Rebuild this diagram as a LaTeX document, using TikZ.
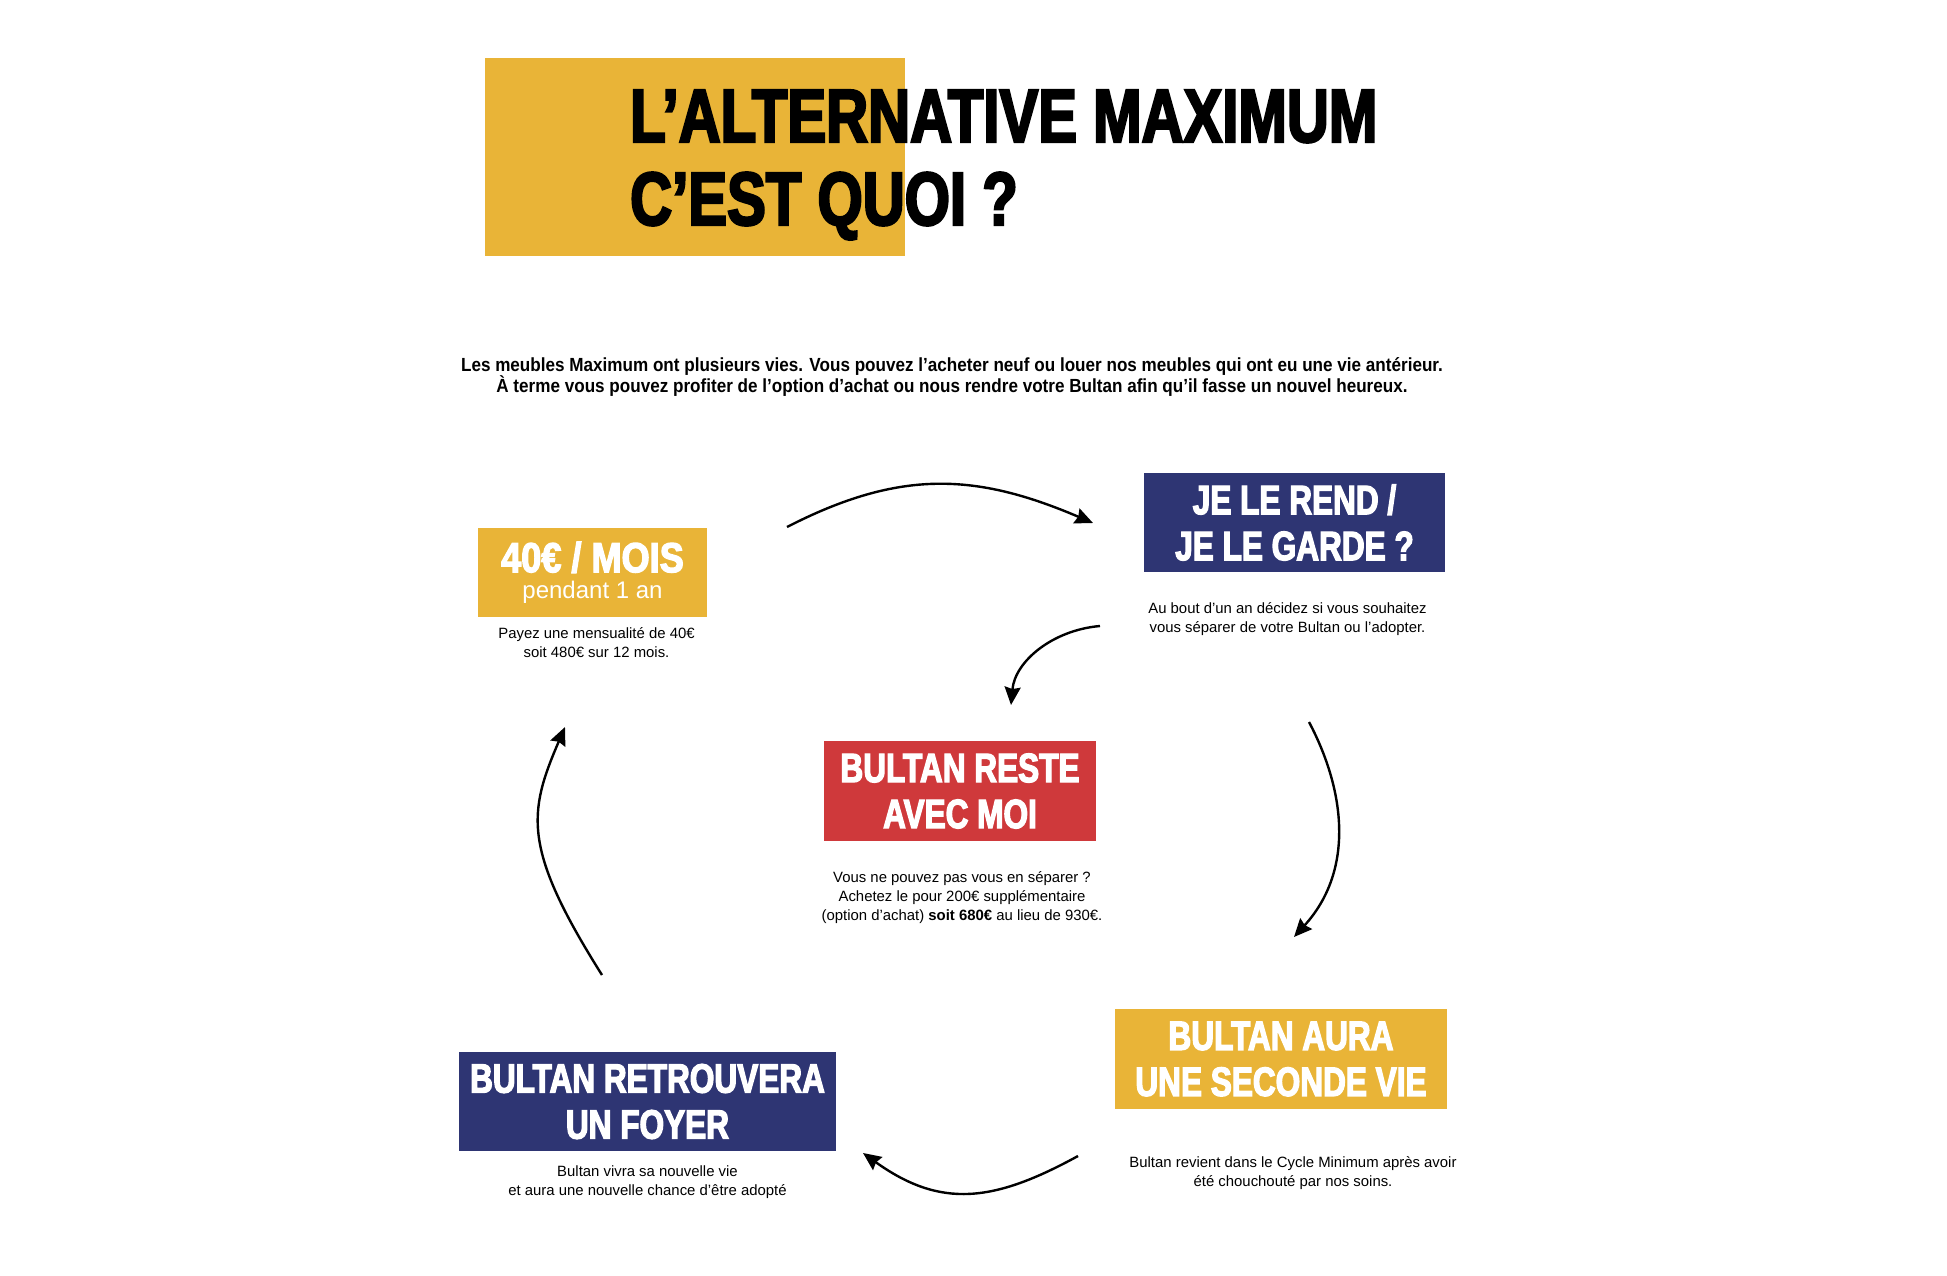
\documentclass[tikz,border=0pt]{standalone}
\usepackage{fontspec}
\setmainfont{Liberation Sans}
\newfontfamily\headfont[FakeStretch=0.77,FakeBold=3]{Liberation Sans Bold}
\newfontfamily\pricefont[FakeStretch=0.86,FakeBold=3]{Liberation Sans Bold}
\newfontfamily\introfont[FakeStretch=0.9]{Liberation Sans Bold}
\usetikzlibrary{positioning, arrows.meta}

\definecolor{mustard}{RGB}{233,180,55}
\definecolor{navy}{RGB}{46,53,115}
\definecolor{brick}{RGB}{207,57,59}

\tikzstyle{stage} = [rectangle, inner sep=0pt, text=white, align=center, font=\headfont\fontsize{41}{46}\selectfont]
\tikzstyle{caption} = [inner sep=0pt, align=center, font=\fontsize{14.9}{19}\selectfont]
\tikzstyle{arrow} = [line width=2.4pt,->,>={Stealth[length=18pt,width=16pt,inset=2pt]}]

\begin{document}
\begin{tikzpicture}[x=1pt, y=-1pt]
    \useasboundingbox (0,0) rectangle (1947,1275);

    % Title
    \node (titleBg) [fill=mustard, minimum width=420pt, minimum height=198pt, inner sep=0pt] at (695,157) {};
    \node (titleA) [anchor=base west, inner sep=0pt, font=\headfont\fontsize{75.5}{84}\selectfont] at (630,142) {L’ALTERNATIVE MAXIMUM};
    \node (titleB) [anchor=base west, inner sep=0pt, font=\headfont\fontsize{75.5}{84}\selectfont] at (630,225) {C’EST QUOI ?};

    \node (intro) [inner sep=0pt, align=center, font=\introfont\fontsize{19}{20}\selectfont] at (952,377)
        {Les meubles Maximum ont plusieurs vies. Vous pouvez l’acheter neuf ou louer nos meubles qui ont eu une vie antérieur.\\
         À terme vous pouvez profiter de l’option d’achat ou nous rendre votre Bultan afin qu’il fasse un nouvel heureux.};

    % Stages
    \node (pay) [stage, fill=mustard, minimum width=229pt, minimum height=89pt] at (592.5,572.5)
        {{\pricefont\fontsize{42}{42}\selectfont 40€ / MOIS}\\[-20pt]{\normalfont\fontsize{24}{24}\selectfont pendant 1 an}};
    \node (decide) [stage, fill=navy, minimum width=301pt, minimum height=99pt] at (1294.5,522.5) {JE LE REND /\\JE LE GARDE ?};
    \node (keep) [stage, fill=brick, minimum width=272pt, minimum height=100pt] at (960,791) {BULTAN RESTE\\AVEC MOI};
    \node (second) [stage, fill=mustard, minimum width=332pt, minimum height=100pt] at (1281,1059) {BULTAN AURA\\UNE SECONDE VIE};
    \node (home) [stage, fill=navy, minimum width=377pt, minimum height=99pt] at (647.5,1101.5) {BULTAN RETROUVERA\\UN FOYER};

    % Captions
    \node (payText) [caption, below=10pt of pay, xshift=4pt] {Payez une mensualité de 40€\\soit 480€ sur 12 mois.};
    \node (decideText) [caption, below=30pt of decide, xshift=-7pt] {Au bout d’un an décidez si vous souhaitez\\vous séparer de votre Bultan ou l’adopter.};
    \node (keepText) [caption, below=30pt of keep, xshift=2pt] {Vous ne pouvez pas vous en séparer ?\\Achetez le pour 200€ supplémentaire\\(option d’achat) \textbf{soit 680€} au lieu de 930€.};
    \node (secondText) [caption, below=47pt of second, xshift=12pt] {Bultan revient dans le Cycle Minimum après avoir\\été chouchouté par nos soins.};
    \node (homeText) [caption, below=14pt of home] {Bultan vivra sa nouvelle vie\\et aura une nouvelle chance d’être adopté};

    % Arrows
    \coordinate (payOut) at (787,527);
    \coordinate (decideIn) at (1093,523);
    \coordinate (decideOut) at (1100,626);
    \coordinate (keepIn) at (1011,705);
    \coordinate (decideDown) at (1309,722);
    \coordinate (secondIn) at (1294,937);
    \coordinate (secondOut) at (1078,1156);
    \coordinate (homeIn) at (863,1153);
    \coordinate (homeOut) at (602,975);
    \coordinate (payIn) at (565,727);

    \draw [arrow] (payOut) .. controls (900,469) and (976,473) .. (decideIn);
    \draw [arrow] (decideOut) .. controls (1053,630) and (1015,661) .. (keepIn);
    \draw [arrow] (decideDown) .. controls (1345,790) and (1355,870) .. (secondIn);
    \draw [arrow] (secondOut) .. controls (994,1202) and (941,1209) .. (homeIn);
    \draw [arrow] (homeOut) .. controls (522,848) and (528,813) .. (payIn);

\end{tikzpicture}
\end{document}
